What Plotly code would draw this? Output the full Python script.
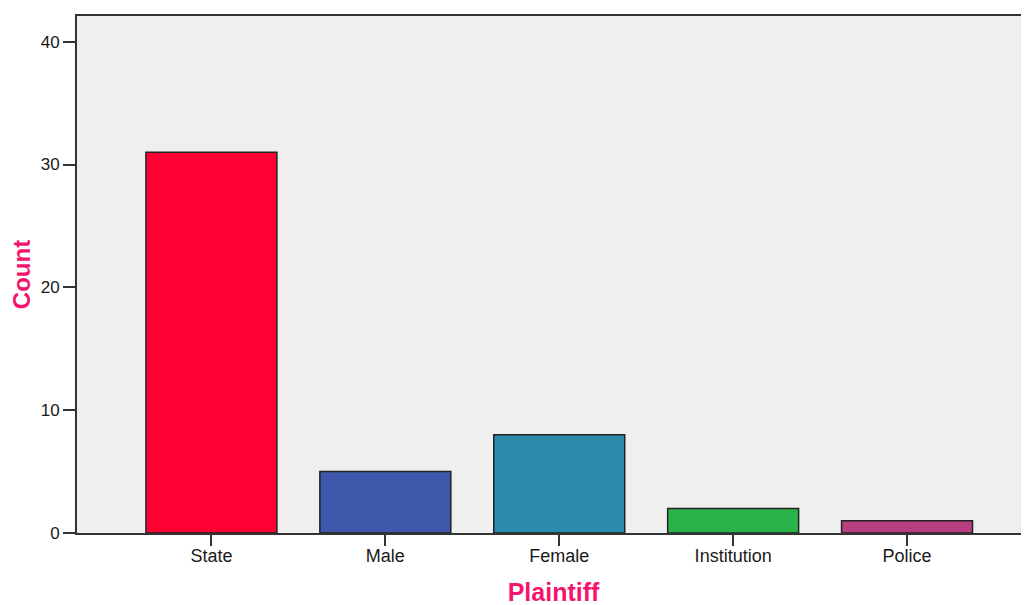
import plotly.graph_objects as go

categories = ["State", "Male", "Female", "Institution", "Police"]
counts = [31, 5, 8, 2, 1]
colors = ["#ff0033", "#3e58ab", "#2a8bac", "#2bb34a", "#b73f7f"]
y_ticks = [0, 10, 20, 30, 40]

fig = go.Figure(go.Bar(
    x=categories, y=counts, marker=dict(color=colors, line=dict(color="#222222", width=1.5)),
    width=0.753,
))

fig.update_layout(
    width=1022, height=598,
    margin=dict(l=69, r=0, t=8, b=73),
    paper_bgcolor="white", plot_bgcolor="#efefef",
    font=dict(family="Liberation Sans, Arial", size=17, color="#1a1a1a"),
    showlegend=False,
)
fig.update_xaxes(
    range=[-0.773, 4.707], showline=True, linecolor="#333333", linewidth=1.8, mirror=True,
    ticks="outside", ticklen=11, tickcolor="#333333", tickwidth=1.8, showgrid=False,
    title=dict(text="<b>Plaintiff</b>", font=dict(size=25, color="#f5146d"), standoff=24),
    tickfont=dict(size=18), ticklabelstandoff=-6,
)
fig.update_yaxes(
    range=[0, 42.09], tickvals=y_ticks, showline=True, linecolor="#333333", linewidth=1.8,
    ticks="outside", ticklen=12, tickcolor="#333333", tickwidth=1.8, showgrid=False, zeroline=False,
    title=dict(text="<b>Count</b>", font=dict(size=24, color="#f5146d"), standoff=15),
    tickfont=dict(size=17),
)

fig.write_html("out.html")
